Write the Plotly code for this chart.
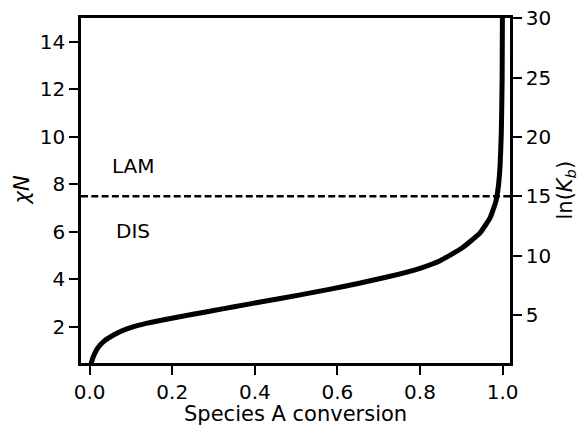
import plotly.graph_objects as go

# Data
conversion = [0.002, 0.004, 0.01, 0.02, 0.035, 0.06, 0.09, 0.13, 0.18, 0.25, 0.30, 0.35,
              0.42, 0.51, 0.58, 0.65, 0.72, 0.80, 0.85, 0.90, 0.945, 0.97, 0.984,
              0.990, 0.994, 0.997, 0.999, 0.9997]
chi_n = [0.30, 0.48, 0.80, 1.12, 1.40, 1.68, 1.92, 2.12, 2.30, 2.53, 2.69, 2.85,
         3.07, 3.35, 3.58, 3.83, 4.10, 4.47, 4.80, 5.30, 5.95, 6.60, 7.30,
         7.95, 8.8, 10.2, 12.5, 15.5]
odt_chi_n = 7.5
x_ticks = [0.0, 0.2, 0.4, 0.6, 0.8, 1.0]
y_ticks = [2, 4, 6, 8, 10, 12, 14]
y2_ticks = [5, 10, 15, 20, 25, 30]
y_range = [0.48, 15.01]
y2_range = [2 * y_range[0], 2 * y_range[1]]
x_range = [-0.021, 1.018]
regions = [("LAM", 0.05, 8.77), ("DIS", 0.059, 6.04)]
x_title = "Species A conversion"
y_title = "<i>χN</i>"
y2_title = "ln(<i>K</i><sub><i>b</i></sub>)"

FONT = "DejaVu Sans"
fig = go.Figure()
fig.add_trace(go.Scatter(x=conversion, y=chi_n, mode="lines",
                         line=dict(color="black", width=5, shape="spline", smoothing=0.4),
                         showlegend=False, hoverinfo="skip"))
# invisible trace to activate y2
fig.add_trace(go.Scatter(x=[x_range[0]], y=[y2_range[0]], yaxis="y2", mode="markers",
                         marker=dict(opacity=0), showlegend=False, hoverinfo="skip"))

fig.add_shape(type="line", xref="x domain", yref="y", x0=0, x1=1, y0=odt_chi_n, y1=odt_chi_n,
              line=dict(color="black", width=2.6, dash="7px,3.3px"))

for txt, xv, yv in regions:
    fig.add_annotation(x=xv, y=yv, text=txt, showarrow=False, xanchor="left", yanchor="middle",
                       font=dict(family=FONT, size=20, color="black"))

title_font = dict(family=FONT, size=21, color="black")
fig.add_annotation(x=0.5, y=0, xref="paper", yref="paper", text=x_title, showarrow=False,
                   xanchor="center", yanchor="middle", yshift=-51, font=title_font)
fig.add_annotation(x=0, y=0.5, xref="paper", yref="paper", text=y_title, showarrow=False,
                   xanchor="center", yanchor="middle", xshift=-60, textangle=-90, font=title_font)
fig.add_annotation(x=1, y=0.5, xref="paper", yref="paper", text=y2_title, showarrow=False,
                   xanchor="center", yanchor="middle", xshift=55, textangle=-90, font=title_font)

axis_common = dict(showline=True, linecolor="black", linewidth=2.6, ticks="outside",
                   ticklen=9, tickwidth=2.2, tickcolor="black", showgrid=False, zeroline=False,
                   automargin=False,
                   tickfont=dict(family=FONT, size=20, color="black"))

fig.update_layout(
    width=579, height=425, plot_bgcolor="white", paper_bgcolor="white",
    margin=dict(l=81, r=69, t=18, b=62),
    xaxis=dict(range=x_range, tickvals=x_ticks, ticktext=[f"{v:.1f}" for v in x_ticks],
               mirror=True, **axis_common),
    yaxis=dict(range=y_range, tickvals=y_ticks, **axis_common),
    yaxis2=dict(range=y2_range, tickvals=y2_ticks, overlaying="y", side="right",
                **axis_common),
)

fig.write_html("out.html")
